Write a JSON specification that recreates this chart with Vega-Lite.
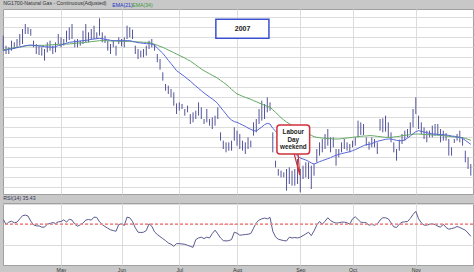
{
  "$schema": "https://vega.github.io/schema/vega-lite/v6.json",
  "background": "#c8c8c8",
  "padding": {"left": 0, "top": 0, "right": 4, "bottom": 3},
  "spacing": 0,
  "config": {
    "font": "Liberation Sans",
    "view": {"fill": "white", "stroke": "#a0a0a0", "strokeWidth": 1},
    "title": {"anchor": "start", "fontSize": 5.2, "fontWeight": "normal", "color": "#333333", "dx": 2},
    "axis": {"gridColor": "#dcdcdc", "gridWidth": 1, "domain": false, "ticks": false, "labels": false, "title": null, "tickCount": 40}
  },
  "datasets": {
    "ng": [
      {"d":0,"h":8.600,"l":8.375,"e21":8.375,"e34":8.390,"rsi":56.2},
      {"d":1,"h":8.450,"l":8.325,"e21":8.385,"e34":8.395,"rsi":50},
      {"d":2,"h":8.425,"l":8.325,"e21":8.395,"e34":8.405,"rsi":52.9},
      {"d":3,"h":8.525,"l":8.375,"e21":8.400,"e34":8.410,"rsi":54.1},
      {"d":4,"h":8.500,"l":8.400,"e21":8.410,"e34":8.420,"rsi":52.1},
      {"d":5,"h":8.550,"l":8.425,"e21":8.420,"e34":8.425,"rsi":52.9},
      {"d":6,"h":8.625,"l":8.450,"e21":8.430,"e34":8.430,"rsi":57.0},
      {"d":7,"h":8.700,"l":8.475,"e21":8.440,"e34":8.435,"rsi":60.8},
      {"d":8,"h":8.775,"l":8.625,"e21":8.450,"e34":8.445,"rsi":61.6},
      {"d":9,"h":8.725,"l":8.625,"e21":8.455,"e34":8.450,"rsi":60.4},
      {"d":10,"h":8.700,"l":8.600,"e21":8.460,"e34":8.450,"rsi":54.1},
      {"d":11,"h":8.525,"l":8.425,"e21":8.455,"e34":8.450,"rsi":49.6},
      {"d":12,"h":8.475,"l":8.325,"e21":8.450,"e34":8.450,"rsi":48.3},
      {"d":13,"h":8.440,"l":8.310,"e21":8.445,"e34":8.455,"rsi":48.3},
      {"d":14,"h":8.425,"l":8.300,"e21":8.440,"e34":8.455,"rsi":46.7},
      {"d":15,"h":8.400,"l":8.225,"e21":8.435,"e34":8.455,"rsi":46.7},
      {"d":16,"h":8.500,"l":8.350,"e21":8.430,"e34":8.460,"rsi":50.4},
      {"d":17,"h":8.525,"l":8.375,"e21":8.430,"e34":8.460,"rsi":51.2},
      {"d":18,"h":8.450,"l":8.325,"e21":8.425,"e34":8.465,"rsi":52.5},
      {"d":19,"h":8.500,"l":8.350,"e21":8.435,"e34":8.465,"rsi":51.2},
      {"d":20,"h":8.625,"l":8.475,"e21":8.450,"e34":8.470,"rsi":53.3},
      {"d":21,"h":8.575,"l":8.425,"e21":8.460,"e34":8.470,"rsi":53.7},
      {"d":22,"h":8.550,"l":8.450,"e21":8.475,"e34":8.475,"rsi":55.8},
      {"d":23,"h":8.675,"l":8.500,"e21":8.485,"e34":8.475,"rsi":52.9},
      {"d":24,"h":8.725,"l":8.535,"e21":8.500,"e34":8.475,"rsi":56.6},
      {"d":25,"h":8.775,"l":8.550,"e21":8.505,"e34":8.480,"rsi":55.4},
      {"d":26,"h":8.540,"l":8.425,"e21":8.510,"e34":8.485,"rsi":50.4},
      {"d":27,"h":8.550,"l":8.425,"e21":8.515,"e34":8.490,"rsi":47.9},
      {"d":28,"h":8.525,"l":8.450,"e21":8.520,"e34":8.490,"rsi":49.6},
      {"d":29,"h":8.675,"l":8.475,"e21":8.525,"e34":8.495,"rsi":51.7},
      {"d":30,"h":8.775,"l":8.500,"e21":8.530,"e34":8.500,"rsi":55.4},
      {"d":31,"h":8.650,"l":8.500,"e21":8.535,"e34":8.505,"rsi":56.2},
      {"d":32,"h":8.700,"l":8.540,"e21":8.545,"e34":8.510,"rsi":55.4},
      {"d":33,"h":8.750,"l":8.550,"e21":8.550,"e34":8.515,"rsi":59.1},
      {"d":34,"h":8.650,"l":8.550,"e21":8.555,"e34":8.520,"rsi":58.7},
      {"d":35,"h":8.860,"l":8.600,"e21":8.560,"e34":8.525,"rsi":53.3},
      {"d":36,"h":8.650,"l":8.500,"e21":8.555,"e34":8.525,"rsi":50},
      {"d":37,"h":8.600,"l":8.490,"e21":8.545,"e34":8.525,"rsi":47.5},
      {"d":38,"h":8.525,"l":8.375,"e21":8.540,"e34":8.525,"rsi":45.4},
      {"d":39,"h":8.475,"l":8.325,"e21":8.530,"e34":8.520,"rsi":43.4},
      {"d":40,"h":8.525,"l":8.425,"e21":8.525,"e34":8.520,"rsi":42.5},
      {"d":41,"h":8.450,"l":8.300,"e21":8.525,"e34":8.520,"rsi":41.7},
      {"d":42,"h":8.575,"l":8.475,"e21":8.525,"e34":8.515,"rsi":50},
      {"d":43,"h":8.550,"l":8.440,"e21":8.525,"e34":8.515,"rsi":50.8},
      {"d":44,"h":8.575,"l":8.425,"e21":8.525,"e34":8.515,"rsi":48.8},
      {"d":45,"h":8.750,"l":8.550,"e21":8.525,"e34":8.515,"rsi":59.1},
      {"d":46,"h":8.725,"l":8.575,"e21":8.525,"e34":8.515,"rsi":58.3},
      {"d":47,"h":8.690,"l":8.550,"e21":8.515,"e34":8.510,"rsi":53.7},
      {"d":48,"h":8.450,"l":8.325,"e21":8.505,"e34":8.510,"rsi":45.9},
      {"d":49,"h":8.400,"l":8.250,"e21":8.495,"e34":8.505,"rsi":40.5},
      {"d":50,"h":8.375,"l":8.275,"e21":8.490,"e34":8.505,"rsi":40.1},
      {"d":51,"h":8.400,"l":8.275,"e21":8.485,"e34":8.500,"rsi":40.5},
      {"d":52,"h":8.450,"l":8.300,"e21":8.480,"e34":8.500,"rsi":42.5},
      {"d":53,"h":8.525,"l":8.400,"e21":8.480,"e34":8.500,"rsi":50.8},
      {"d":54,"h":8.550,"l":8.425,"e21":8.475,"e34":8.485,"rsi":47.9},
      {"d":55,"h":8.475,"l":8.375,"e21":8.455,"e34":8.470,"rsi":40.9},
      {"d":56,"h":8.325,"l":8.200,"e21":8.415,"e34":8.455,"rsi":37.6},
      {"d":57,"h":8.250,"l":8.090,"e21":8.375,"e34":8.440,"rsi":35.1},
      {"d":58,"h":8.050,"l":7.925,"e21":8.335,"e34":8.425,"rsi":32.6},
      {"d":59,"h":7.875,"l":7.775,"e21":8.285,"e34":8.405,"rsi":30.1},
      {"d":60,"h":7.850,"l":7.725,"e21":8.230,"e34":8.385,"rsi":27.2},
      {"d":61,"h":7.800,"l":7.675,"e21":8.180,"e34":8.365,"rsi":25.6},
      {"d":62,"h":7.750,"l":7.550,"e21":8.130,"e34":8.345,"rsi":23.1},
      {"d":63,"h":7.585,"l":7.425,"e21":8.075,"e34":8.325,"rsi":26.4},
      {"d":64,"h":7.600,"l":7.475,"e21":8.045,"e34":8.305,"rsi":26.4},
      {"d":65,"h":7.575,"l":7.500,"e21":8.015,"e34":8.285,"rsi":26.0},
      {"d":66,"h":7.500,"l":7.400,"e21":7.985,"e34":8.265,"rsi":25.6},
      {"d":67,"h":7.550,"l":7.450,"e21":7.950,"e34":8.240,"rsi":24.3},
      {"d":68,"h":7.425,"l":7.275,"e21":7.920,"e34":8.220,"rsi":23.1},
      {"d":69,"h":7.450,"l":7.300,"e21":7.880,"e34":8.190,"rsi":21.8},
      {"d":70,"h":7.475,"l":7.350,"e21":7.845,"e34":8.160,"rsi":31.4},
      {"d":71,"h":7.600,"l":7.400,"e21":7.810,"e34":8.130,"rsi":33.4},
      {"d":72,"h":7.525,"l":7.350,"e21":7.775,"e34":8.100,"rsi":34.3},
      {"d":73,"h":7.350,"l":7.275,"e21":7.740,"e34":8.075,"rsi":32.6},
      {"d":74,"h":7.500,"l":7.300,"e21":7.710,"e34":8.050,"rsi":34.3},
      {"d":75,"h":7.350,"l":7.250,"e21":7.680,"e34":8.030,"rsi":33.4},
      {"d":76,"h":7.375,"l":7.200,"e21":7.650,"e34":8.005,"rsi":38.8},
      {"d":77,"h":7.400,"l":7.250,"e21":7.620,"e34":7.985,"rsi":43.0},
      {"d":78,"h":7.525,"l":7.350,"e21":7.580,"e34":7.960,"rsi":38.4},
      {"d":79,"h":7.150,"l":7.025,"e21":7.525,"e34":7.930,"rsi":33.4},
      {"d":80,"h":7.025,"l":6.900,"e21":7.475,"e34":7.900,"rsi":30.1},
      {"d":81,"h":7.000,"l":6.850,"e21":7.425,"e34":7.870,"rsi":29.7},
      {"d":82,"h":7.000,"l":6.875,"e21":7.370,"e34":7.835,"rsi":30.1},
      {"d":83,"h":7.025,"l":6.875,"e21":7.335,"e34":7.795,"rsi":31.4},
      {"d":84,"h":7.225,"l":7.025,"e21":7.310,"e34":7.760,"rsi":40.5},
      {"d":85,"h":7.175,"l":6.950,"e21":7.300,"e34":7.725,"rsi":39.2},
      {"d":86,"h":7.125,"l":6.900,"e21":7.280,"e34":7.710,"rsi":36.8},
      {"d":87,"h":7.025,"l":6.875,"e21":7.260,"e34":7.690,"rsi":37.2},
      {"d":88,"h":7.000,"l":6.825,"e21":7.240,"e34":7.675,"rsi":37.6},
      {"d":89,"h":7.075,"l":6.900,"e21":7.215,"e34":7.660,"rsi":38.0},
      {"d":90,"h":7.025,"l":6.925,"e21":7.195,"e34":7.645,"rsi":38.8},
      {"d":91,"h":7.300,"l":7.100,"e21":7.175,"e34":7.625,"rsi":45.4},
      {"d":92,"h":7.350,"l":7.150,"e21":7.170,"e34":7.610,"rsi":52.1},
      {"d":93,"h":7.500,"l":7.275,"e21":7.200,"e34":7.590,"rsi":55.4},
      {"d":94,"h":7.625,"l":7.325,"e21":7.230,"e34":7.575,"rsi":57.0},
      {"d":95,"h":7.575,"l":7.350,"e21":7.265,"e34":7.555,"rsi":57.9},
      {"d":96,"h":7.675,"l":7.450,"e21":7.285,"e34":7.540,"rsi":57.0},
      {"d":97,"h":7.600,"l":7.475,"e21":7.275,"e34":7.525,"rsi":58.7},
      {"d":98,"h":7.150,"l":6.850,"e21":7.210,"e34":7.490,"rsi":41.7},
      {"d":99,"h":6.725,"l":6.625,"e21":7.170,"e34":7.450,"rsi":34.7},
      {"d":100,"h":6.600,"l":6.500,"e21":7.120,"e34":7.410,"rsi":31.8},
      {"d":101,"h":6.575,"l":6.475,"e21":7.070,"e34":7.370,"rsi":30.9},
      {"d":102,"h":6.550,"l":6.475,"e21":7.025,"e34":7.335,"rsi":30.1},
      {"d":103,"h":6.600,"l":6.275,"e21":6.980,"e34":7.305,"rsi":29.7},
      {"d":104,"h":6.625,"l":6.375,"e21":6.935,"e34":7.280,"rsi":34.3},
      {"d":105,"h":6.575,"l":6.350,"e21":6.890,"e34":7.255,"rsi":33.4},
      {"d":106,"h":6.600,"l":6.350,"e21":6.840,"e34":7.235,"rsi":33.9},
      {"d":107,"h":6.750,"l":6.375,"e21":6.795,"e34":7.210,"rsi":33.4},
      {"d":108,"h":6.600,"l":6.250,"e21":6.765,"e34":7.190,"rsi":34.3},
      {"d":109,"h":6.650,"l":6.450,"e21":6.750,"e34":7.175,"rsi":36.3},
      {"d":110,"h":6.700,"l":6.475,"e21":6.735,"e34":7.155,"rsi":38.4},
      {"d":111,"h":6.700,"l":6.450,"e21":6.715,"e34":7.130,"rsi":40.5},
      {"d":112,"h":6.650,"l":6.300,"e21":6.690,"e34":7.105,"rsi":36.3},
      {"d":113,"h":6.675,"l":6.500,"e21":6.675,"e34":7.085,"rsi":42.1},
      {"d":114,"h":6.900,"l":6.700,"e21":6.690,"e34":7.075,"rsi":49.2},
      {"d":115,"h":7.000,"l":6.800,"e21":6.710,"e34":7.070,"rsi":53.7},
      {"d":116,"h":7.050,"l":6.850,"e21":6.725,"e34":7.065,"rsi":50.4},
      {"d":117,"h":7.125,"l":6.900,"e21":6.740,"e34":7.060,"rsi":54.1},
      {"d":118,"h":7.200,"l":6.950,"e21":6.755,"e34":7.055,"rsi":58.3},
      {"d":119,"h":7.075,"l":6.850,"e21":6.770,"e34":7.055,"rsi":55.0},
      {"d":120,"h":7.075,"l":6.925,"e21":6.790,"e34":7.050,"rsi":52.9},
      {"d":121,"h":6.900,"l":6.650,"e21":6.805,"e34":7.050,"rsi":51.7},
      {"d":122,"h":6.900,"l":6.775,"e21":6.820,"e34":7.050,"rsi":52.1},
      {"d":123,"h":7.000,"l":6.850,"e21":6.830,"e34":7.055,"rsi":52.9},
      {"d":124,"h":7.050,"l":6.900,"e21":6.840,"e34":7.060,"rsi":52.9},
      {"d":125,"h":7.000,"l":6.875,"e21":6.850,"e34":7.065,"rsi":52.1},
      {"d":126,"h":6.975,"l":6.850,"e21":6.860,"e34":7.070,"rsi":50.4},
      {"d":127,"h":7.025,"l":6.925,"e21":6.875,"e34":7.075,"rsi":57.0},
      {"d":128,"h":7.075,"l":6.950,"e21":6.890,"e34":7.080,"rsi":59.5},
      {"d":129,"h":7.325,"l":7.075,"e21":6.910,"e34":7.085,"rsi":56.2},
      {"d":130,"h":7.300,"l":7.110,"e21":6.930,"e34":7.090,"rsi":52.9},
      {"d":131,"h":7.275,"l":7.110,"e21":6.950,"e34":7.095,"rsi":52.5},
      {"d":132,"h":7.075,"l":6.950,"e21":6.965,"e34":7.095,"rsi":52.1},
      {"d":133,"h":7.010,"l":6.890,"e21":6.970,"e34":7.100,"rsi":49.2},
      {"d":134,"h":7.075,"l":6.925,"e21":6.980,"e34":7.100,"rsi":50},
      {"d":135,"h":7.050,"l":6.925,"e21":7.000,"e34":7.095,"rsi":49.2},
      {"d":136,"h":7.000,"l":6.825,"e21":7.015,"e34":7.090,"rsi":50.4},
      {"d":137,"h":7.350,"l":7.175,"e21":7.025,"e34":7.085,"rsi":55.4},
      {"d":138,"h":7.360,"l":7.150,"e21":7.035,"e34":7.080,"rsi":58.3},
      {"d":139,"h":7.400,"l":7.160,"e21":7.045,"e34":7.075,"rsi":58.3},
      {"d":140,"h":7.300,"l":7.075,"e21":7.050,"e34":7.075,"rsi":57.0},
      {"d":141,"h":7.150,"l":7.000,"e21":7.050,"e34":7.075,"rsi":52.1},
      {"d":142,"h":7.000,"l":6.850,"e21":7.040,"e34":7.080,"rsi":47.1},
      {"d":143,"h":6.900,"l":6.725,"e21":7.030,"e34":7.085,"rsi":46.3},
      {"d":144,"h":7.040,"l":6.875,"e21":7.025,"e34":7.090,"rsi":50.4},
      {"d":145,"h":7.125,"l":6.975,"e21":7.025,"e34":7.100,"rsi":52.9},
      {"d":146,"h":7.175,"l":7.025,"e21":7.035,"e34":7.105,"rsi":53.3},
      {"d":147,"h":7.200,"l":7.075,"e21":7.065,"e34":7.110,"rsi":53.7},
      {"d":148,"h":7.300,"l":7.125,"e21":7.095,"e34":7.115,"rsi":57.5},
      {"d":149,"h":7.500,"l":7.225,"e21":7.130,"e34":7.120,"rsi":62.4},
      {"d":150,"h":7.675,"l":7.425,"e21":7.160,"e34":7.125,"rsi":66.2},
      {"d":151,"h":7.400,"l":7.200,"e21":7.175,"e34":7.125,"rsi":57.0},
      {"d":152,"h":7.300,"l":7.125,"e21":7.165,"e34":7.120,"rsi":52.1},
      {"d":153,"h":7.225,"l":7.050,"e21":7.155,"e34":7.120,"rsi":49.2},
      {"d":154,"h":7.175,"l":7.000,"e21":7.145,"e34":7.115,"rsi":49.2},
      {"d":155,"h":7.175,"l":7.075,"e21":7.135,"e34":7.115,"rsi":50.4},
      {"d":156,"h":7.250,"l":7.075,"e21":7.125,"e34":7.110,"rsi":50.8},
      {"d":157,"h":7.275,"l":7.100,"e21":7.125,"e34":7.110,"rsi":50},
      {"d":158,"h":7.275,"l":7.100,"e21":7.120,"e34":7.110,"rsi":47.9},
      {"d":159,"h":7.200,"l":7.000,"e21":7.115,"e34":7.105,"rsi":46.7},
      {"d":160,"h":7.175,"l":7.025,"e21":7.115,"e34":7.100,"rsi":50.4},
      {"d":161,"h":7.140,"l":7.025,"e21":7.110,"e34":7.095,"rsi":46.3},
      {"d":162,"h":7.050,"l":6.800,"e21":7.105,"e34":7.090,"rsi":44.2},
      {"d":163,"h":6.925,"l":6.800,"e21":7.095,"e34":7.085,"rsi":45.0},
      {"d":164,"h":7.050,"l":6.990,"e21":7.090,"e34":7.080,"rsi":45.9},
      {"d":165,"h":7.125,"l":7.025,"e21":7.080,"e34":7.080,"rsi":47.5},
      {"d":166,"h":7.175,"l":7.000,"e21":7.075,"e34":7.075,"rsi":46.3},
      {"d":167,"h":7.075,"l":6.950,"e21":7.060,"e34":7.070,"rsi":44.6},
      {"d":168,"h":6.875,"l":6.700,"e21":7.030,"e34":7.060,"rsi":43.0},
      {"d":169,"h":6.775,"l":6.600,"e21":7.000,"e34":7.045,"rsi":39.5},
      {"d":170,"h":6.675,"l":6.500,"e21":6.970,"e34":7.030,"rsi":35.43}
    ]
  },
  "vconcat": [
    {
      "width": 470,
      "height": 185,
      "title": {"text": "NG1700-Natural Gas - Continuous(Adjusted)", "offset": 2.8},
      "layer": [
        {
          "data": {"name": "ng"},
          "mark": {"type": "rule", "color": "#54549a", "strokeWidth": 1},
          "encoding": {
            "x": {"field": "d", "type": "quantitative", "scale": {"domain": [-0.1, 170.8], "nice": false, "zero": false},
                  "axis": {"values": [21, 43, 64, 85, 108, 127, 150], "grid": true, "tickCount": 40}},
            "y": {"field": "h", "type": "quantitative", "scale": {"domain": [6.225, 9.0], "nice": false, "zero": false},
                  "axis": {"values": [8.88, 8.73, 8.58, 8.43, 8.28, 8.13, 7.98, 7.83, 7.68, 7.53, 7.38, 7.23, 7.08, 6.93, 6.78, 6.63, 6.48, 6.33], "grid": true, "tickCount": 40}},
            "y2": {"field": "l"}
          }
        },
        {
          "data": {"name": "ng"},
          "mark": {"type": "line", "strokeWidth": 1},
          "encoding": {
            "x": {"field": "d", "type": "quantitative"},
            "y": {"field": "e34", "type": "quantitative"},
            "color": {"datum": "EMA(34)", "type": "nominal", "scale": {"range": ["#62a862"]},
                      "legend": {"orient": "none", "legendX": 124, "legendY": -7, "title": null, "symbolSize": 0, "symbolOpacity": 0, "symbolStrokeWidth": 0, "labelOffset": 0, "padding": 0, "labelFontSize": 5.2, "labelColor": "#3f9a3f", "labelFont": "Liberation Sans"}}
          }
        },
        {
          "data": {"name": "ng"},
          "mark": {"type": "line", "strokeWidth": 1},
          "encoding": {
            "x": {"field": "d", "type": "quantitative"},
            "y": {"field": "e21", "type": "quantitative"},
            "stroke": {"datum": "EMA(21)", "type": "nominal", "scale": {"range": ["#5666d8"]},
                       "legend": {"orient": "none", "legendX": 104, "legendY": -7, "title": null, "symbolSize": 0, "symbolOpacity": 0, "symbolStrokeWidth": 0, "labelOffset": 0, "padding": 0, "labelFontSize": 5.2, "labelColor": "#2233cc", "labelFont": "Liberation Sans"}}
          }
        },
        {
          "data": {"values": [{"a": 77.3, "b": 96.6, "top": 8.846, "bot": 8.561}]},
          "mark": {"type": "rect", "fill": "white", "stroke": "#3a50d0", "strokeWidth": 1.5},
          "encoding": {
            "x": {"field": "a", "type": "quantitative"}, "x2": {"field": "b"},
            "y": {"field": "top", "type": "quantitative"}, "y2": {"field": "bot"}
          }
        },
        {
          "data": {"values": [{"a": 87, "p": 8.70, "t": "2007"}]},
          "mark": {"type": "text", "fontSize": 7, "fontWeight": "bold", "color": "#222222", "baseline": "middle", "align": "center"},
          "encoding": {
            "x": {"field": "a", "type": "quantitative"},
            "y": {"field": "p", "type": "quantitative"},
            "text": {"field": "t"}
          }
        },
        {
          "data": {"values": [{"a": 105.8, "p": 6.825, "o": 0}, {"a": 107.8, "p": 6.51, "o": 1}, {"a": 107.2, "p": 6.825, "o": 2}]},
          "mark": {"type": "line", "color": "#d0303a", "strokeWidth": 1.2},
          "encoding": {
            "x": {"field": "a", "type": "quantitative"},
            "y": {"field": "p", "type": "quantitative"},
            "order": {"field": "o"}
          }
        },
        {
          "data": {"values": [{"a": 99.5, "b": 111.4, "top": 7.26, "bot": 6.825}]},
          "mark": {"type": "rect", "fill": "white", "stroke": "#d0303a", "strokeWidth": 1.5, "cornerRadius": 3},
          "encoding": {
            "x": {"field": "a", "type": "quantitative"}, "x2": {"field": "b"},
            "y": {"field": "top", "type": "quantitative"}, "y2": {"field": "bot"}
          }
        },
        {
          "data": {"values": [{"a": 105.45, "p": 7.150, "t": "Labour"}, {"a": 105.45, "p": 7.040, "t": "Day"}, {"a": 105.45, "p": 6.935, "t": "weekend"}]},
          "mark": {"type": "text", "fontSize": 6.3, "fontWeight": "bold", "color": "#222222", "baseline": "middle", "align": "center"},
          "encoding": {
            "x": {"field": "a", "type": "quantitative"},
            "y": {"field": "p", "type": "quantitative"},
            "text": {"field": "t"}
          }
        }
      ]
    },
    {
      "width": 470,
      "height": 62,
      "title": {"text": "RSI(14) 35.43", "offset": 1.8, "color": "#333355"},
      "data": {"name": "ng"},
      "layer": [
        {
          "mark": {"type": "line", "color": "#5a5a90", "strokeWidth": 1},
          "encoding": {
            "x": {"field": "d", "type": "quantitative", "scale": {"domain": [-0.1, 170.8], "nice": false, "zero": false},
                  "axis": {"values": [21, 43, 64, 85, 108, 127, 150], "grid": true, "tickCount": 40, "labels": true, "labelFontSize": 5.2, "labelColor": "#333333", "labelPadding": 2, "labelDx": 3,
                           "labelExpr": "['May','Jun','Jul','Aug','Sep','Oct','Nov'][indexof([21,43,64,85,108,127,150], datum.value)]"}},
            "y": {"field": "rsi", "type": "quantitative", "scale": {"domain": [0, 76.54], "nice": false, "zero": false},
                  "axis": {"values": [25, 75], "grid": true, "tickCount": 40}}
          }
        },
        {
          "mark": {"type": "rule", "color": "#ec8a8a", "strokeDash": [3, 2], "strokeWidth": 1},
          "encoding": {"y": {"datum": 50}}
        }
      ]
    }
  ]
}
